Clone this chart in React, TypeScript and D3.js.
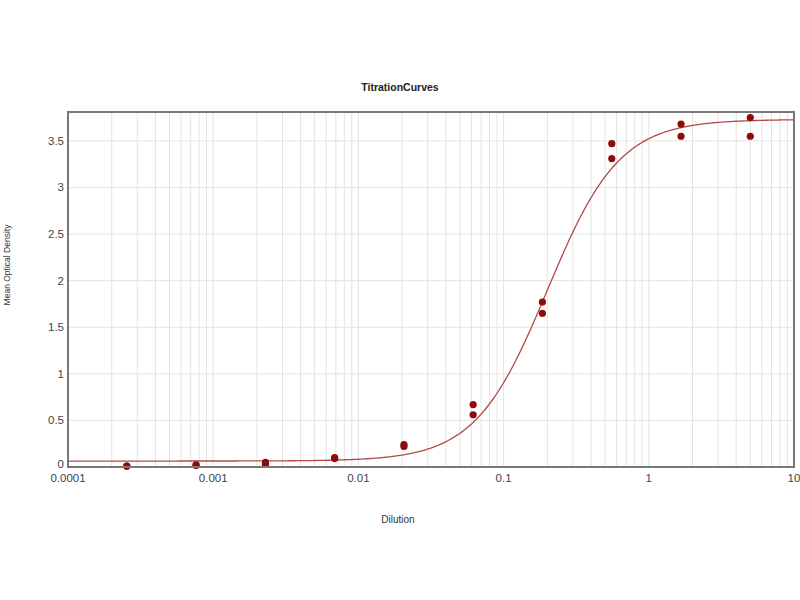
import React from "react";
import * as d3 from "d3";

// Dilutions (x) and replicate optical densities (y)
const dilutions = [5, 1.667, 0.556, 0.185, 0.0617, 0.0206, 0.00686, 0.00229, 0.000762, 0.000254];
const replicateA = [3.75, 3.68, 3.47, 1.77, 0.67, 0.24, 0.1, 0.05, 0.02, 0.01];
const replicateB = [3.55, 3.55, 3.31, 1.65, 0.56, 0.22, 0.09, 0.03, 0.02, 0.01];

// Fitted 4-parameter logistic curve parameters (read from the drawn fit)
const fitBottom = 0.064;
const fitTop = 3.73;
const fitEC50 = 0.2;
const fitHill = 1.75;

const xTickValues = [0.0001, 0.001, 0.01, 0.1, 1, 10];
const xTickLabels = ["0.0001", "0.001", "0.01", "0.1", "1", "10"];
const yTickValues = [0, 0.5, 1, 1.5, 2, 2.5, 3, 3.5];
const yTickLabels = ["0", "0.5", "1", "1.5", "2", "2.5", "3", "3.5"];

const W = 800;
const H = 600;
const left = 68;
const right = 794;
const top = 112;
const bottom = 467;

export default function App() {
  const x = d3.scaleLog().domain([0.0001, 10]).range([left, right]);
  const y = d3.scaleLinear().domain([0, 3.81]).range([bottom, top]);

  const minorTicks: number[] = [];
  for (let e = -4; e < 1; e++) {
    for (let m = 1; m <= 9; m++) {
      minorTicks.push(m * Math.pow(10, e));
    }
  }
  minorTicks.push(10);

  const curveXs = d3.range(0, 401).map((i) => Math.pow(10, -4 + (5 * i) / 400));
  const fit = (v: number) => fitBottom + (fitTop - fitBottom) / (1 + Math.pow(fitEC50 / v, fitHill));
  const line = d3
    .line<number>()
    .x((v) => x(v))
    .y((v) => y(fit(v)));

  const font = "'Liberation Sans', Arial, sans-serif";

  return (
    <svg
      width={W}
      height={H}
      style={{ position: "absolute", left: 0, top: 0, background: "#fff" }}
      fontFamily={font}
    >
      <rect x={0} y={0} width={W} height={H} fill="#fff" />
      {/* grid */}
      {minorTicks.map((t, i) => (
        <line key={"gx" + i} x1={x(t)} x2={x(t)} y1={top} y2={bottom} stroke="#e3e3e3" strokeWidth={1} />
      ))}
      {yTickValues.map((t, i) => (
        <line key={"gy" + i} x1={left} x2={right} y1={y(t)} y2={y(t)} stroke="#e3e3e3" strokeWidth={1} />
      ))}
      {/* fit curve */}
      <path d={line(curveXs) || ""} fill="none" stroke="#b24a4a" strokeWidth={1.3} />
      {/* points */}
      {dilutions.map((d, i) => (
        <g key={"p" + i}>
          <circle cx={x(d)} cy={y(replicateA[i])} r={3.6} fill="#8e0b0b" />
          <circle cx={x(d)} cy={y(replicateB[i])} r={3.6} fill="#8e0b0b" />
        </g>
      ))}
      {/* frame */}
      <rect x={left} y={top} width={right - left} height={bottom - top} fill="none" stroke="#777" strokeWidth={2} />
      {/* y ticks */}
      {yTickValues.map((t, i) => (
        <text
          key={"yt" + i}
          x={left - 4}
          y={t === 0 ? y(t) + 1 : y(t) + 4}
          textAnchor="end"
          fontSize={11.5}
          fill="#444"
        >
          {yTickLabels[i]}
        </text>
      ))}
      {/* x ticks */}
      {xTickValues.map((t, i) => (
        <text key={"xt" + i} x={x(t)} y={482} textAnchor="middle" fontSize={11.5} fill="#444">
          {xTickLabels[i]}
        </text>
      ))}
      <text x={400} y={91} textAnchor="middle" fontSize={10.5} fontWeight="bold" fill="#222">
        TitrationCurves
      </text>
      <text x={398} y={523} textAnchor="middle" fontSize={10} fill="#333">
        Dilution
      </text>
      <text
        transform={`translate(10, 265) rotate(-90)`}
        textAnchor="middle"
        fontSize={8.5}
        fill="#333"
      >
        Mean Optical Density
      </text>
    </svg>
  );
}
